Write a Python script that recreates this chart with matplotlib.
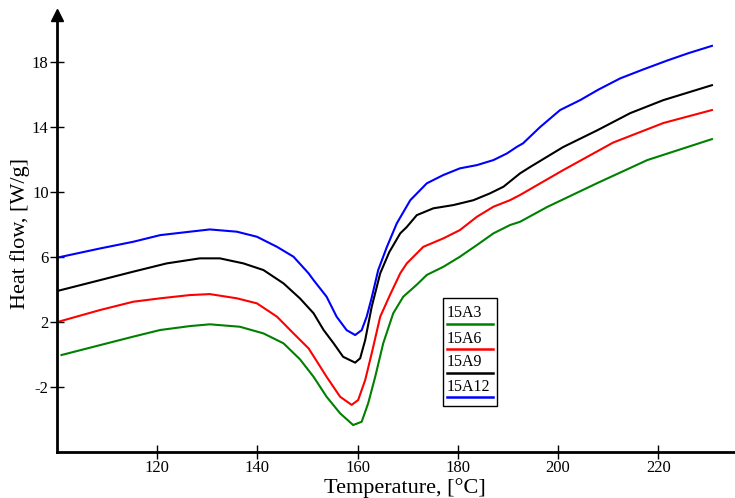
import matplotlib
matplotlib.use("Agg")
import matplotlib.pyplot as plt

plt.rcParams["font.family"] = ["Liberation Serif", "DejaVu Serif"]
plt.rcParams["axes.unicode_minus"] = False

# DSC heat flow traces, temperature in degC, heat flow in W/g
t_15A3 = [100.9, 108.6, 115.2, 120.6, 126.5, 130.5, 136.5, 141.2, 145.2, 148.5, 151.2, 153.8,
          156.5, 159.1, 160.8, 162.1, 163.5, 165.1, 167.1, 169.1, 171.8, 173.8, 177.1, 180.4,
          183.8, 187.1, 190.4, 192.4, 197.8, 207.8, 217.8, 230.7]
q_15A3 = [-0.03, 0.58, 1.1, 1.51, 1.75, 1.86, 1.71, 1.3, 0.69, -0.3, -1.37, -2.6,
          -3.62, -4.34, -4.14, -3.0, -1.37, 0.69, 2.54, 3.56, 4.3, 4.9, 5.4, 6.02,
          6.74, 7.46, 7.97, 8.17, 9.08, 10.55, 11.97, 13.26]

t_15A6 = [100.3, 108.6, 115.2, 120.6, 126.5, 130.5, 135.9, 139.9, 143.9, 147.2, 150.2, 151.2,
          153.8, 156.5, 158.8, 160.1, 161.5, 162.8, 164.5, 166.5, 168.5, 169.8, 173.1, 177.1,
          180.4, 183.8, 187.1, 190.4, 192.4, 201, 211, 221, 230.7]
q_15A6 = [2.02, 2.74, 3.25, 3.46, 3.66, 3.72, 3.46, 3.15, 2.33, 1.3, 0.38, -0.1,
          -1.37, -2.6, -3.1, -2.8, -1.57, 0.07, 2.33, 3.7, 5.0, 5.61, 6.63, 7.15,
          7.66, 8.48, 9.1, 9.5, 9.82, 11.35, 13.05, 14.25, 15.05]

t_15A9 = [100.3, 108.6, 115.2, 121.9, 128.5, 132.5, 137.2, 141.2, 145.2, 148.5, 151.2, 153.2,
          155.2, 157.1, 159.5, 160.5, 161.5, 162.8, 164.5, 166.3, 168.5, 169.8, 171.8, 175.1,
          179.1, 183.1, 186.4, 189.1, 192.4, 194.4, 201, 207.8, 214.4, 221, 230.7]
q_15A9 = [3.93, 4.58, 5.1, 5.61, 5.92, 5.92, 5.61, 5.2, 4.38, 3.45, 2.54, 1.51,
          0.69, -0.14, -0.5, -0.23, 0.89, 2.94, 5.0, 6.3, 7.46, 7.85, 8.58, 9.0,
          9.2, 9.5, 9.92, 10.33, 11.15, 11.54, 12.77, 13.8, 14.86, 15.66, 16.58]

t_15A12 = [100.3, 108.6, 115.2, 120.6, 126.5, 130.5, 135.9, 139.9, 143.9, 147.2, 150.2, 151.2,
           153.8, 155.8, 157.8, 159.5, 160.8, 161.8, 162.8, 164.1, 165.8, 167.8, 170.5, 173.8,
           177.1, 180.4, 183.8, 187.1, 189.8, 191.8, 193, 196.4, 200.4, 204.4, 208, 212.4,
           217, 221.8, 226, 230.7]
q_15A12 = [5.98, 6.53, 6.94, 7.35, 7.56, 7.7, 7.56, 7.25, 6.63, 6.02, 5.0, 4.58,
           3.56, 2.33, 1.5, 1.2, 1.5, 2.33, 3.5, 5.2, 6.6, 8.07, 9.5, 10.54,
           11.05, 11.46, 11.66, 11.97, 12.38, 12.79, 13.0, 14.0, 15.05, 15.66, 16.3, 17.0,
           17.55, 18.1, 18.55, 19.0]

series = [
    ("15A3", t_15A3, q_15A3, "#008000"),
    ("15A6", t_15A6, q_15A6, "#ff0000"),
    ("15A9", t_15A9, q_15A9, "#000000"),
    ("15A12", t_15A12, q_15A12, "#0000ff"),
]

x_ticks = [120, 140, 160, 180, 200, 220]
y_ticks = [-2, 2, 6, 10, 14, 18]

fig = plt.figure(figsize=(7.35, 4.98), dpi=100)
ax = fig.add_axes([57 / 735, 46 / 498, 678 / 735, 437 / 498])

for name, t, q, col in series:
    ax.plot(t, q, color=col, lw=1.5)

ax.set_xlim(100, 235.3)
ax.set_ylim(-6, 20.9)
ax.set_xticks(x_ticks)
ax.set_yticks(y_ticks)
ax.tick_params(direction="inout", length=10, width=1, labelsize=12, pad=1)

for side in ("top", "right"):
    ax.spines[side].set_visible(False)
for side in ("left", "bottom"):
    ax.spines[side].set_linewidth(2)

# arrow head on the y axis
ax.plot(0, 1, marker="^", color="k", markersize=9, transform=ax.transAxes, clip_on=False)

ax.set_xlabel("Temperature, [°C]", fontsize=16, va="baseline")
ax.xaxis.set_label_coords((405 - 57) / 678, (452 - 493) / 437)
ax.set_ylabel("Heat flow, [W/g]", fontsize=16)
ax.yaxis.set_label_coords((30 - 57) / 678, 0.5)

# legend box with the line drawn under each name
box_x0, box_x1 = (443 - 57) / 678, (497 - 57) / 678
box_y0, box_y1 = (452 - 406) / 437, (452 - 298) / 437
ax.add_patch(plt.Rectangle((box_x0, box_y0), box_x1 - box_x0, box_y1 - box_y0,
                           transform=ax.transAxes, fill=False, lw=1, ec="k"))
text_y = [313, 339, 362, 387]
line_y = [324, 349, 373, 397]
for (name, t, q, col), ty, ly in zip(series, text_y, line_y):
    ax.text((447 - 57) / 678, (452 - ty) / 437, name, transform=ax.transAxes,
            fontsize=11.5, va="center", ha="left")
    ax.plot([(447 - 57) / 678, (493 - 57) / 678], [(452 - ly) / 437] * 2,
            color=col, lw=1.8, transform=ax.transAxes)

fig.savefig("out.png", dpi=100)
